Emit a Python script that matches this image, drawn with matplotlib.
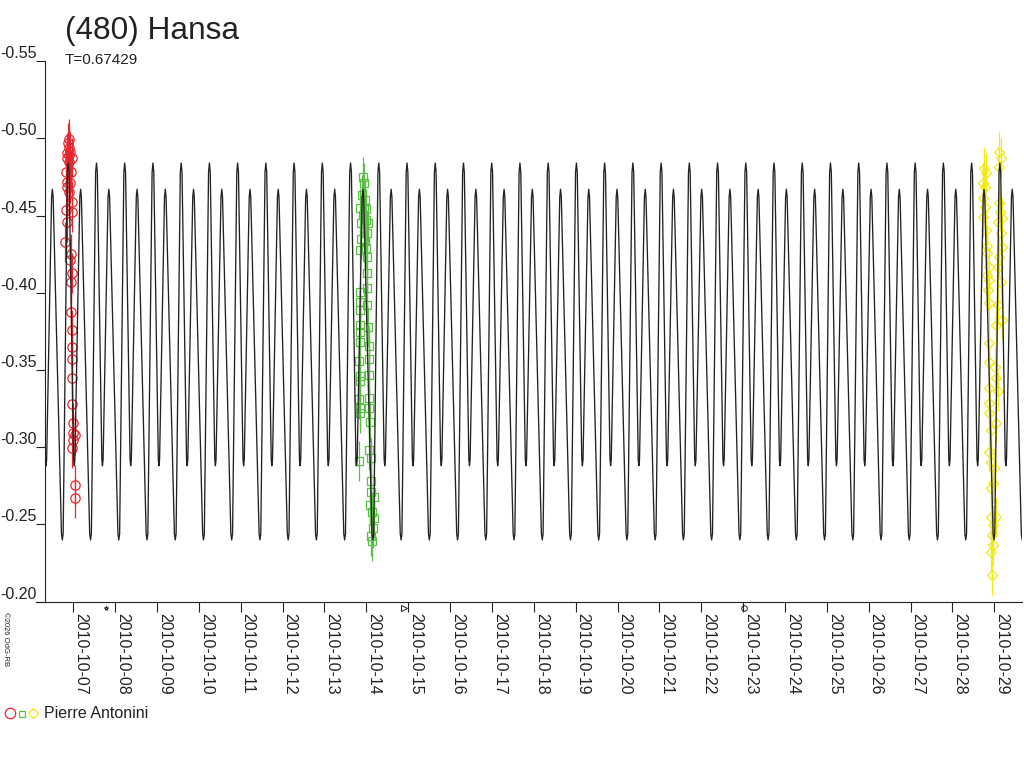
import numpy as np
import matplotlib
matplotlib.use('Agg')
import matplotlib.pyplot as plt

plt.rcParams['font.family'] = ['Liberation Sans', 'DejaVu Sans']

# lightcurve model: one rotation profile (phase, relative mag), tiled with the period
period = 0.67429
epoch = 6.881          # day of Oct 2010 of the main maximum
profile_phase = [0.00, 0.03, 0.19, 0.212, 0.235, 0.41, 0.438, 0.465, 0.76, 0.79, 0.82, 0.97, 1.00]
profile_mag = [-0.484, -0.478, -0.292, -0.288, -0.292, -0.462, -0.467, -0.462,
               -0.244, -0.240, -0.244, -0.478, -0.484]

# session 1 (2010-10-07), red circles
s1_t = [6.897, 6.881, 6.905, 6.921, 6.858, 6.905, 6.842, 6.961, 6.905, 6.826,
        6.937, 6.842, 6.921, 6.842, 6.905, 6.961, 6.826, 6.961, 6.858, 6.802,
        6.937, 6.921, 6.961, 6.937, 6.937, 6.961, 6.961, 6.961, 6.961, 6.961,
        7.001, 6.985, 7.041, 6.985, 6.961, 7.041, 7.041]
s1_m = [-0.4993, -0.4967, -0.4935, -0.4913, -0.4903, -0.4892, -0.4870, -0.4870, -0.4848, -0.4784,
        -0.4784, -0.4719, -0.4709, -0.4687, -0.4654, -0.4589, -0.4536, -0.4525, -0.4460, -0.4331,
        -0.4251, -0.4212, -0.4126, -0.4072, -0.3878, -0.3759, -0.3651, -0.3569, -0.3447, -0.3280,
        -0.3155, -0.3091, -0.3080, -0.3048, -0.2994, -0.2757, -0.2670]

# session 2 (2010-10-14), green squares
s2_t = [13.921, 13.945, 13.907, 13.962, 13.859, 14.002, 13.921, 13.986, 13.883, 14.041,
        13.945, 14.026, 13.883, 13.962, 13.859, 14.002, 14.026, 14.017, 14.026, 13.859,
        13.859, 14.026, 13.859, 13.859, 14.041, 13.859, 13.842, 14.057, 14.057, 13.826,
        14.057, 13.842, 13.842, 13.826, 14.057, 13.842, 13.842, 14.064, 14.081, 13.826,
        14.064, 14.105, 14.122, 14.122, 14.184, 14.098, 14.146, 14.184, 14.160, 14.122,
        14.146]
s2_m = [-0.4751, -0.4708, -0.4633, -0.4600, -0.4547, -0.4540, -0.4503, -0.4471, -0.4449, -0.4449,
        -0.4417, -0.4385, -0.4346, -0.4337, -0.4277, -0.4288, -0.4229, -0.4130, -0.4029, -0.4007,
        -0.3942, -0.3921, -0.3888, -0.3791, -0.3780, -0.3748, -0.3683, -0.3655, -0.3571, -0.3560,
        -0.3467, -0.3461, -0.3431, -0.3310, -0.3317, -0.3252, -0.3223, -0.3252, -0.3165, -0.2913,
        -0.2982, -0.2928, -0.2781, -0.2712, -0.2680, -0.2626, -0.2583, -0.2540, -0.2475, -0.2425,
        -0.2395]

# session 3 (2010-10-29), yellow diamonds
s3_t = [28.759, 28.800, 28.718, 29.117, 29.158, 29.100, 28.783, 28.735, 29.117, 28.783,
        28.718, 29.134, 29.076, 29.181, 28.800, 29.158, 28.814, 29.181, 29.117, 28.814,
        28.862, 29.076, 28.814, 29.158, 28.862, 28.838, 28.862, 29.076, 29.181, 29.038,
        28.862, 28.862, 29.022, 29.038, 28.862, 29.076, 28.878, 28.862, 29.038, 28.919,
        28.878, 28.919, 28.997, 28.957, 28.919, 28.919, 29.038, 28.957, 28.943, 28.957,
        28.919, 28.943]
s3_m = [-0.4805, -0.4773, -0.4708, -0.4913, -0.4870, -0.4816, -0.4686, -0.4611, -0.4579, -0.4557,
        -0.4492, -0.4525, -0.4460, -0.4482, -0.4406, -0.4385, -0.4302, -0.4298, -0.4233, -0.4255,
        -0.4169, -0.4169, -0.4115, -0.4071, -0.4082, -0.4018, -0.3932, -0.3921, -0.3823, -0.3791,
        -0.3673, -0.3554, -0.3521, -0.3446, -0.3381, -0.3366, -0.3284, -0.3220, -0.3155, -0.3111,
        -0.2971, -0.2906, -0.2864, -0.2766, -0.2734, -0.2550, -0.2550, -0.2497, -0.2432, -0.2367,
        -0.2324, -0.2173]
err = 0.013

# moon phases (new, first quarter, full)
moon_t = [7.78, 14.89, 23.02]
moon_sym = ['*', '>', 'o']

day_ticks = list(range(7, 30))
day_labels = [f'2010-10-{d:02d}' for d in day_ticks]
y_ticks = [-0.55, -0.50, -0.45, -0.40, -0.35, -0.30, -0.25, -0.20]

red = '#e8262d'
green = '#5cbf45'
yellow = '#f2ea12'
ink = '#222222'

fig = plt.figure(figsize=(10.24, 7.68), dpi=100)
ax = fig.add_axes([0.0442, 0.2165, 0.9538, 0.7040])

cycles = np.arange(-1, 36)
t_model = (epoch + (cycles[:, None] + np.array(profile_phase)[None, :]) * period).ravel()
m_model = np.tile(profile_mag, len(cycles))
ax.plot(t_model, m_model, color=ink, lw=0.95, zorder=4)

for t, m, col, mk, ms in [(s1_t, s1_m, red, 'o', 6.7),
                           (s2_t, s2_m, green, 's', 5.4),
                           (s3_t, s3_m, yellow, 'D', 5)]:
    ax.errorbar(t, m, yerr=err, fmt='none', ecolor=col, elinewidth=0.9, zorder=2)
    ax.plot(t, m, linestyle='none', marker=mk, ms=ms, mfc='none', mec=col, mew=0.9, zorder=3)

# moon phase symbols just under the axis
trans = ax.get_xaxis_transform()
for t, s in zip(moon_t, moon_sym):
    ax.plot(t, -0.012, marker=s, ms=4 if s != '*' else 3, mfc='none', mec=ink,
            mew=0.7, transform=trans, clip_on=False)

ax.set_xlim(6.332, 29.66)
ax.set_ylim(-0.20, -0.55)
ax.set_xticks(day_ticks)
ax.set_xticklabels(day_labels, rotation=270, ha='left', va='top', fontsize=11.5, color=ink)
ax.set_yticks(y_ticks)
ax.set_yticklabels([f'{v:.2f}' for v in y_ticks], fontsize=11.5, color=ink, va='bottom')
ax.tick_params(axis='x', length=7.2, width=0.8, pad=1, colors=ink)
ax.tick_params(axis='y', length=6.2, width=0.8, pad=0, colors=ink)
for side in ['top', 'right']:
    ax.spines[side].set_visible(False)
for side in ['left', 'bottom']:
    ax.spines[side].set_color(ink)
    ax.spines[side].set_linewidth(0.8)
ax.plot([-0.0095, 0], [0, 0], color=ink, lw=0.8, transform=ax.transAxes, clip_on=False)

fig.text(65 / 1024, 1 - 39.5 / 768, '(480) Hansa', fontsize=22.8, color=ink, va='baseline')
fig.text(65 / 1024, 1 - 63.5 / 768, 'T=0.67429', fontsize=11, color=ink, va='baseline')
fig.text(0.002, 1 - 612 / 768, '©2026 OdG-RB', fontsize=5.5, color=ink,
         rotation=270, ha='left', va='top')

# observer legend
ft = fig.transFigure
fig.add_artist(plt.Line2D([10 / 1024], [1 - 713 / 768], marker='o', ms=7.5, mfc='none',
                          mec=red, mew=0.9, transform=ft))
fig.add_artist(plt.Line2D([22 / 1024], [1 - 713.5 / 768], marker='s', ms=5, mfc='none',
                          mec=green, mew=0.9, transform=ft))
fig.add_artist(plt.Line2D([33 / 1024], [1 - 713 / 768], marker='D', ms=5.5, mfc='none',
                          mec=yellow, mew=0.9, transform=ft))
fig.text(44 / 1024, 1 - 718.5 / 768, 'Pierre Antonini', fontsize=11.5, color=ink, va='baseline')

fig.savefig('out.png', dpi=100)
